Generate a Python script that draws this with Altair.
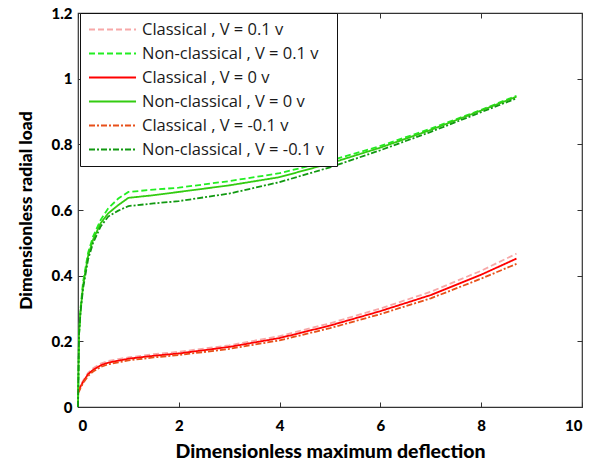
import altair as alt
import pandas as pd

x_vals = [0, 0.02, 0.05, 0.1, 0.2, 0.3, 0.45, 0.6, 0.8, 1.0, 1.5, 2, 3, 4, 5, 6, 7, 8, 8.7]

cls_p01 = [0.048, 0.053, 0.066, 0.080, 0.104, 0.118, 0.132, 0.140, 0.146, 0.151, 0.161, 0.168, 0.188, 0.216, 0.255, 0.300, 0.351, 0.415, 0.467]
non_p01 = [0.0, 0.22, 0.30, 0.38, 0.47, 0.52, 0.57, 0.605, 0.635, 0.655, 0.662, 0.668, 0.688, 0.712, 0.750, 0.795, 0.848, 0.905, 0.948]
cls_0 = [0.045, 0.050, 0.062, 0.076, 0.100, 0.113, 0.127, 0.135, 0.141, 0.147, 0.156, 0.163, 0.183, 0.210, 0.248, 0.292, 0.341, 0.403, 0.452]
non_0 = [0.0, 0.22, 0.29, 0.37, 0.46, 0.51, 0.56, 0.59, 0.615, 0.637, 0.645, 0.655, 0.675, 0.700, 0.742, 0.790, 0.844, 0.903, 0.945]
cls_m01 = [0.043, 0.047, 0.058, 0.072, 0.095, 0.108, 0.122, 0.130, 0.136, 0.142, 0.151, 0.158, 0.177, 0.203, 0.240, 0.283, 0.331, 0.391, 0.436]
non_m01 = [0.0, 0.22, 0.29, 0.36, 0.45, 0.50, 0.55, 0.58, 0.598, 0.612, 0.620, 0.627, 0.650, 0.685, 0.730, 0.782, 0.838, 0.898, 0.940]

labels = [
    "Classical  , V = 0.1 v",
    "Non-classical  , V = 0.1 v",
    "Classical  , V = 0 v",
    "Non-classical  , V = 0 v",
    "Classical  , V = -0.1 v",
    "Non-classical  , V = -0.1 v",
]
series = [cls_p01, non_p01, cls_0, non_0, cls_m01, non_m01]
colors = ["#f7a8a8", "#22ee22", "#ff0000", "#33cc11", "#e8501a", "#119911"]
dashes = [[6, 3], [6, 3], [1, 0], [1, 0], [6, 2, 2, 2], [6, 2, 2, 2]]

rows = []
for lab, ys in zip(labels, series):
    for i, (xv, yv) in enumerate(zip(x_vals, ys)):
        rows.append({"x": xv, "y": yv, "series": lab, "order": i})
df = pd.DataFrame(rows)

FONT = "Open Sans"
AXFONT = "Lato"
xticks = [0, 2, 4, 6, 8, 10]
yticks = [0, 0.2, 0.4, 0.6, 0.8, 1.0, 1.2]
xscale = alt.Scale(domain=[0, 10], nice=False)
yscale = alt.Scale(domain=[0, 1.2], nice=False)

legend = alt.Legend(title=None, orient="none", legendX=2, legendY=0,
                    symbolType="M-1,0H5.27", symbolSize=225,
                    symbolStrokeWidth=2, labelFont=FONT, labelFontWeight=500,
                    labelFontSize=16.5, labelColor="#1a1a1a", labelOffset=37,
                    rowPadding=7, padding=8, fillColor="white",
                    strokeColor="#111", labelLimit=400)

lines = alt.Chart(df).mark_line(strokeWidth=1.8).encode(
    x=alt.X("x:Q", scale=xscale,
            axis=alt.Axis(values=xticks, title="Dimensionless maximum deflection",
                          ticks=False, domain=False, grid=False, labelPadding=11,
                          labelFont=AXFONT, labelFontSize=15, labelFontWeight=900,
                          labelColor="#000", titleFont=AXFONT, titleFontSize=19.5,
                          titleFontWeight=900, titleColor="#000", titlePadding=9)),
    y=alt.Y("y:Q", scale=yscale,
            axis=alt.Axis(values=yticks, title="Dimensionless radial load",
                          ticks=False, domain=False, grid=False, labelPadding=6,
                          format="~r",
                          labelFont=AXFONT, labelFontSize=15, labelFontWeight=900,
                          labelColor="#000", titleFont=AXFONT, titleFontSize=17.5,
                          titleFontWeight=900, titleColor="#000", titlePadding=16)),
    color=alt.Color("series:N", scale=alt.Scale(domain=labels, range=colors), legend=legend),
    strokeDash=alt.StrokeDash("series:N", scale=alt.Scale(domain=labels, range=dashes), legend=legend),
    order="order:Q",
)

def tick_axis(orient, vals):
    return alt.Axis(orient=orient, values=vals, offset=-5, labels=False, domain=False,
                    grid=False, ticks=True, tickSize=5, tickColor="#333", title=None)

ticks_bl = alt.Chart(df).mark_point(opacity=0).encode(
    x=alt.X("x:Q", scale=xscale, axis=tick_axis("bottom", xticks)),
    y=alt.Y("y:Q", scale=yscale, axis=tick_axis("left", yticks)),
)
ticks_tr = alt.Chart(df).mark_point(opacity=0).encode(
    x=alt.X("x:Q", scale=xscale, axis=tick_axis("top", xticks)),
    y=alt.Y("y:Q", scale=yscale, axis=tick_axis("right", yticks)),
)

chart = alt.layer(lines, ticks_bl, ticks_tr).resolve_scale(
    x="shared", y="shared"
).resolve_axis(
    x="independent", y="independent"
).properties(
    width=504, height=394,
    padding={"left": 78, "top": 13, "right": 15, "bottom": 54},
    autosize=alt.AutoSizeParams(type="none"),
    background="white",
).configure_view(stroke="#333", strokeWidth=1.2)

chart.save("out.html", embed_options={"renderer": "svg", "actions": False})
